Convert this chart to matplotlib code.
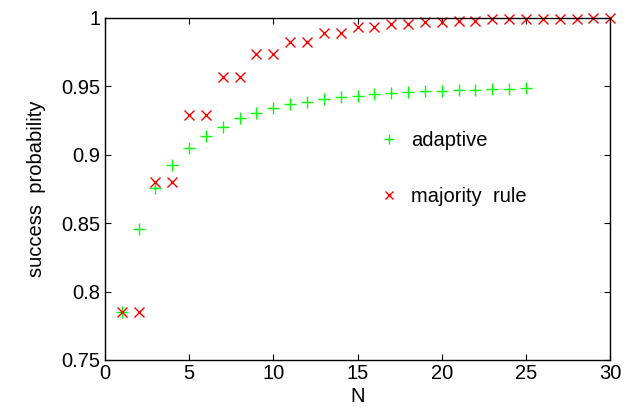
import numpy as np
import matplotlib
matplotlib.use("Agg")
import matplotlib.pyplot as plt

plt.rcParams['font.family'] = ['Liberation Sans', 'DejaVu Sans']

# adaptive strategy, N = 1..25
n_adaptive = np.arange(1, 26)
p_adaptive = [0.785, 0.846, 0.876, 0.8925, 0.905, 0.914, 0.9206, 0.9267, 0.9303,
              0.934, 0.9369, 0.9388, 0.9408, 0.942, 0.9432, 0.9442, 0.9454,
              0.9457, 0.9463, 0.9469, 0.9474, 0.9477, 0.948, 0.9482, 0.9485]

# majority rule, N = 1..30
n_majority = np.arange(1, 31)
p_majority = [0.785, 0.785, 0.880, 0.880, 0.929, 0.929, 0.957, 0.957, 0.9735,
              0.9735, 0.9827, 0.9827, 0.9893, 0.9893, 0.9934, 0.9934, 0.9956,
              0.9956, 0.997, 0.997, 0.998, 0.998, 0.9989, 0.9989, 0.9993,
              0.9993, 0.9996, 0.9996, 0.9998, 0.9998]

fig = plt.figure(figsize=(6.43, 4.07), dpi=100)
ax = fig.add_axes([0.163, 0.1155, 0.786, 0.8403])

ax.plot(n_adaptive, p_adaptive, '+', color='#00ff00', markersize=8.5,
        markeredgewidth=1.0, linestyle='none', label='adaptive', clip_on=False)
ax.plot(n_majority, p_majority, 'x', color='#ff0000', markersize=7,
        markeredgewidth=1.0, linestyle='none', label='majority  rule', clip_on=False)

ax.set_xlim(0, 30)
ax.set_ylim(0.75, 1)
ax.set_xticks([0, 5, 10, 15, 20, 25, 30])
ax.set_yticks([0.75, 0.8, 0.85, 0.9, 0.95, 1])
ax.set_yticklabels(['0.75', '0.8', '0.85', '0.9', '0.95', '1'])
ax.tick_params(direction='in', top=True, right=True, labelsize=14.5, length=4,
               width=0.8, pad=3)
for s in ax.spines.values():
    s.set_linewidth(1.0)

ax.set_xlabel('N', fontsize=14.5, labelpad=3)
ax.set_ylabel('success  probability', fontsize=14.5, labelpad=11)

ax.legend(loc='upper left', bbox_to_anchor=(0.523, 0.70), frameon=False,
          fontsize=14.5, labelspacing=1.85, handletextpad=0.6, handlelength=1.0,
          borderpad=0, markerscale=0.85)

fig.savefig('out.png', dpi=100)
